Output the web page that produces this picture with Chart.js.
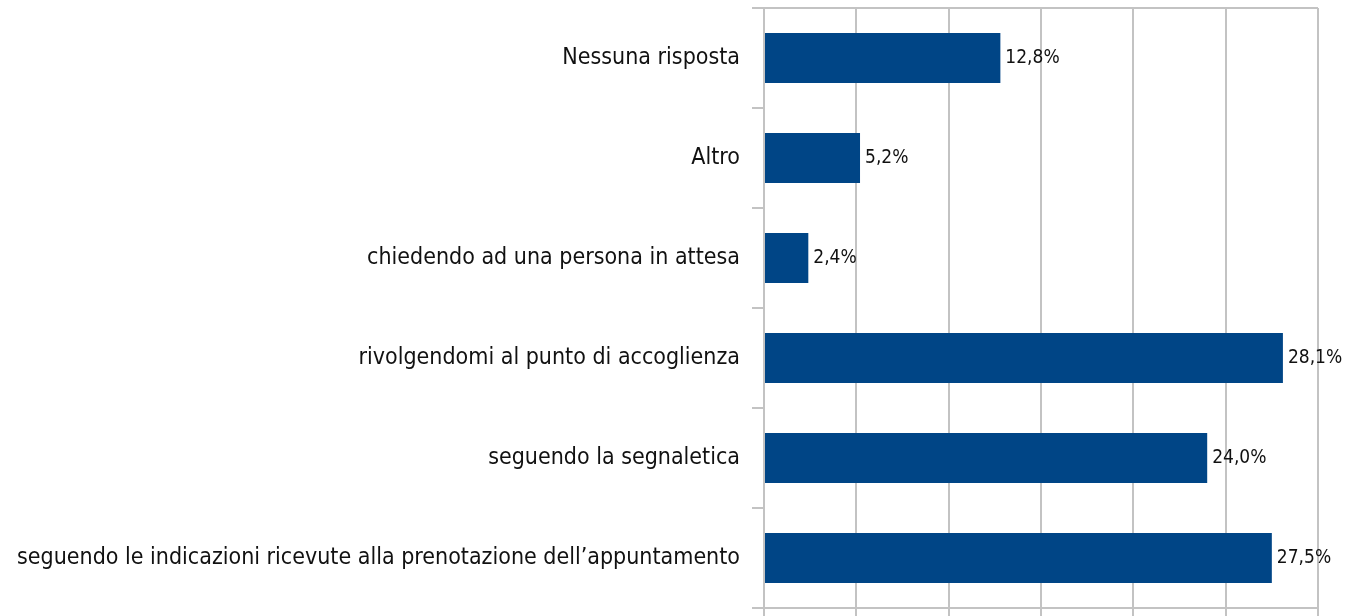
<!DOCTYPE html>
<html>
<head>
<meta charset="utf-8">
<script src="https://cdn.jsdelivr.net/npm/chart.js@4/dist/chart.umd.min.js"></script>
<style>
  html, body { margin: 0; padding: 0; background: #fff; }
  #wrap { width: 1351px; height: 616px; }
</style>
</head>
<body>
<div id="wrap"><canvas id="chart"></canvas></div>
<script>
// Categorie (dall'alto verso il basso) e percentuali
const categories = [
  'Nessuna risposta',
  'Altro',
  'chiedendo ad una persona in attesa',
  'rivolgendomi al punto di accoglienza',
  'seguendo la segnaletica',
  'seguendo le indicazioni ricevute alla prenotazione dell\u2019appuntamento'
];
const percentages = [12.8, 5.2, 2.4, 28.1, 24.0, 27.5];
const xTicks = [0, 5, 10, 15, 20, 25, 30];

const FONT = "'DejaVu Sans Condensed', 'DejaVu Sans', sans-serif";
const GRID = '#c3c3c3';

// Etichette dei valori alla fine delle barre
const valueLabels = {
  id: 'valueLabels',
  afterDatasetsDraw(chart) {
    const ctx = chart.ctx;
    const meta = chart.getDatasetMeta(0);
    ctx.save();
    ctx.font = '19px ' + FONT;
    ctx.fillStyle = '#111';
    ctx.textAlign = 'left';
    ctx.textBaseline = 'middle';
    meta.data.forEach((bar, i) => {
      const txt = percentages[i].toFixed(1).replace('.', ',') + '%';
      ctx.fillText(txt, bar.x + 5, bar.y);
    });
    ctx.restore();
  }
};

new Chart(document.getElementById('chart'), {
  type: 'bar',
  data: {
    labels: categories,
    datasets: [{
      data: percentages,
      backgroundColor: '#004586',
      borderWidth: 0,
      barPercentage: 0.5,
      categoryPercentage: 1
    }]
  },
  plugins: [valueLabels],
  options: {
    indexAxis: 'y',
    responsive: true,
    maintainAspectRatio: false,
    animation: false,
    layout: { padding: { left: 0, right: 33, top: 0, bottom: 0 } },
    plugins: { legend: { display: false }, tooltip: { enabled: false } },
    scales: {
      x: {
        min: 0,
        max: 30,
        afterBuildTicks: scale => { scale.ticks = xTicks.map(v => ({ value: v })); },
        afterFit: scale => { scale.height = 8; },
        ticks: { display: false },
        grid: { color: GRID, lineWidth: 2, tickLength: 8, tickColor: GRID },
        border: { color: GRID, width: 2 }
      },
      y: {
        afterFit: scale => {
          scale.width = 764;
          scale.paddingTop = 8;
          scale.paddingBottom = 0;
        },
        ticks: { color: '#111', font: { family: FONT, size: 23 }, padding: 12 },
        grid: {
          offset: true,
          color: ctx => ctx.index === 0 ? GRID : 'rgba(0,0,0,0)',
          lineWidth: 2,
          tickLength: 12,
          tickColor: GRID
        },
        border: { color: GRID, width: 2 }
      }
    }
  }
});
</script>
</body>
</html>
